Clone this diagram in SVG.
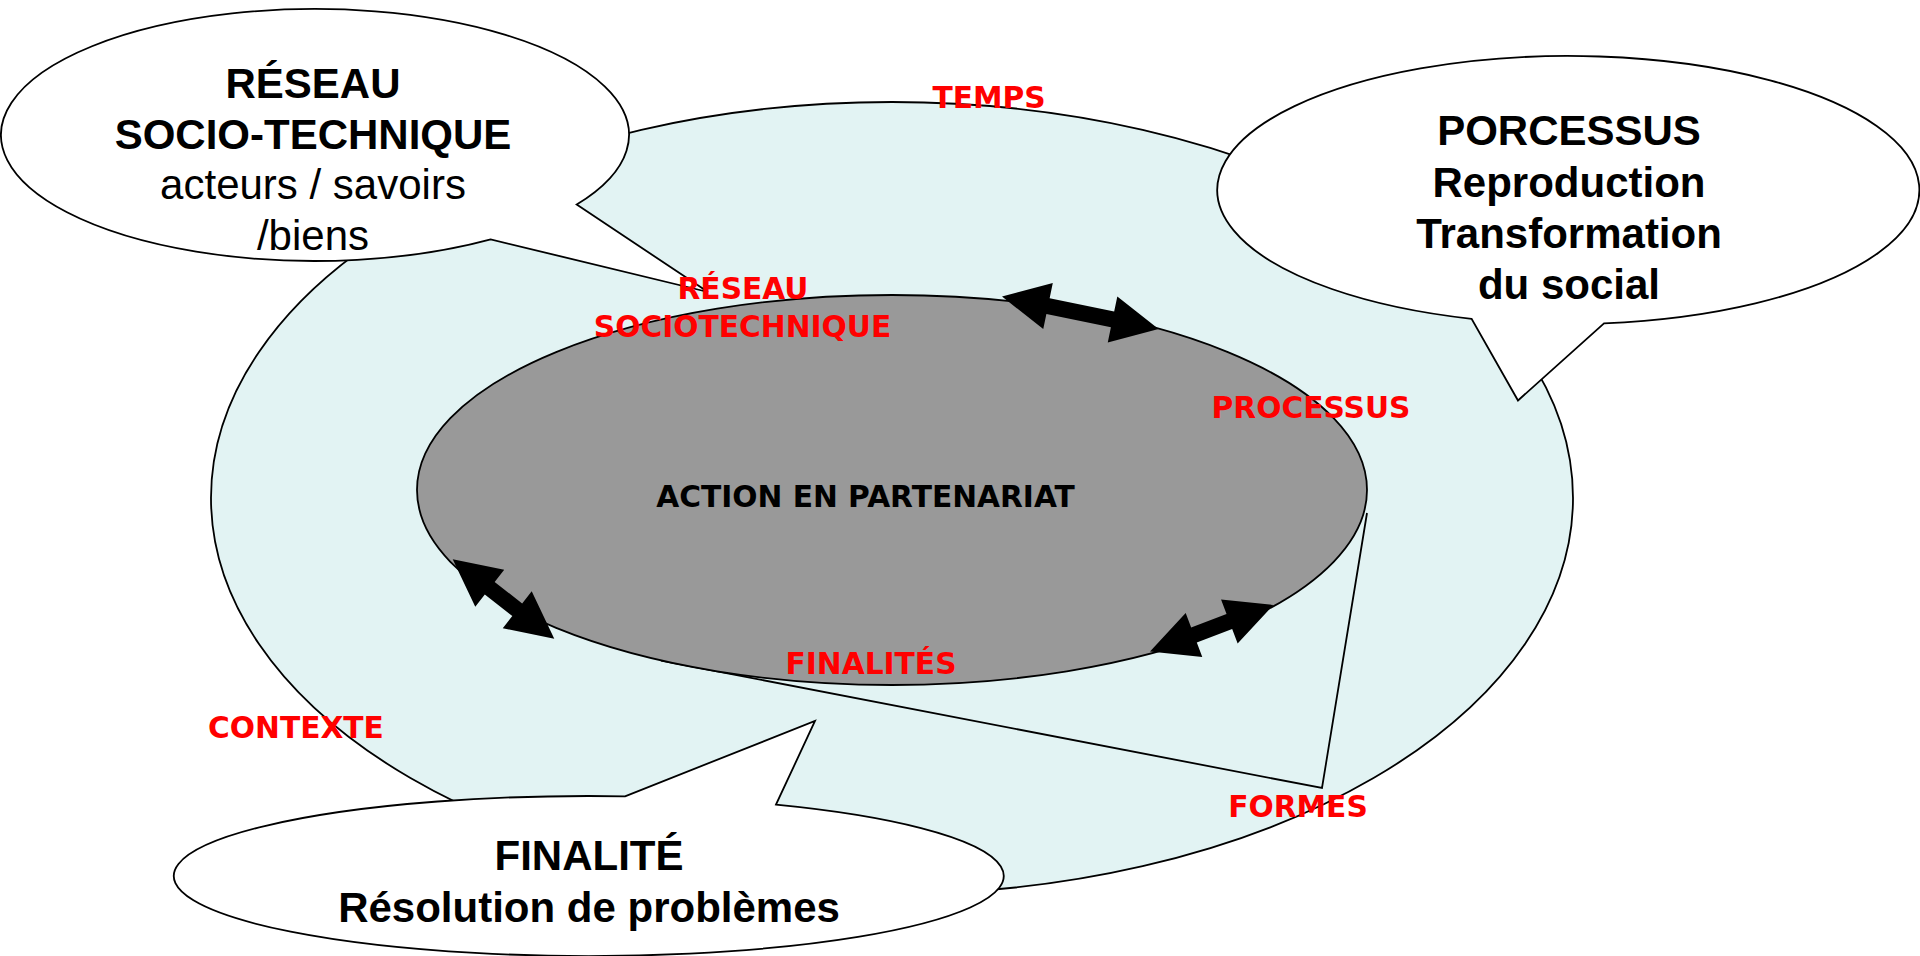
<svg xmlns="http://www.w3.org/2000/svg" width="1920" height="956" viewBox="0 0 1920 956">
<style>
.ln{stroke:#000;stroke-width:1.8;stroke-linejoin:miter}
.ctx{fill:#E2F3F3}
.act{fill:#999999}
.bub{fill:#FFFFFF}
.red{font-family:"DejaVu Sans",Verdana,sans-serif;font-weight:bold;font-size:29.7px;fill:#FF0000;text-anchor:middle}
.mid{font-family:"DejaVu Sans",Verdana,sans-serif;font-weight:bold;font-size:29.7px;fill:#000;text-anchor:middle}
.bt{font-family:"Liberation Sans",Arial,sans-serif;font-size:42px;fill:#000;text-anchor:middle}
.b{font-weight:bold}
.arr{fill:#000}
</style>
<defs>
<polygon id="dbl" points="0,0 47,-23.5 47,-8 0,-8 0,8 47,8 47,23.5"/>
</defs>
<rect width="1920" height="956" fill="#FFFFFF"/>
<g id="contexte">
<ellipse class="ctx ln" cx="892" cy="498" rx="681" ry="396"/>
</g>
<g id="action">
<polyline class="ln" fill="none" points="1367,513 1322,788 661,660.5"/>
<ellipse class="act ln" cx="892" cy="490" rx="475" ry="195"/>
<text class="mid" x="865.5" y="507.3">ACTION EN PARTENARIAT</text>
</g>
<g id="bulle-reseau">
<path class="bub ln" d="M576.7,204.6 L708,292 L490.7,239.4 A314 126 0 1 1 576.7,204.6 Z"/>
<text class="bt b" x="313" y="98.3">RÉSEAU</text>
<text class="bt b" x="313" y="149">SOCIO-TECHNIQUE</text>
<text class="bt" x="313" y="199.3">acteurs / savoirs</text>
<text class="bt" x="313" y="250">/biens</text>
</g>
<g id="bulle-processus">
<path class="bub ln" d="M1604,323.3 L1518,400.5 L1471.6,318.8 A351 134 0 1 1 1604,323.3 Z"/>
<text class="bt b" x="1569" y="145">PORCESSUS</text>
<text class="bt b" x="1569" y="196.7">Reproduction</text>
<text class="bt b" x="1569" y="247.7">Transformation</text>
<text class="bt b" x="1569" y="299">du social</text>
</g>
<g id="bulle-finalite">
<path class="bub ln" d="M625,796.3 L815,721 L776,804.6 A415 80 0 1 1 625,796.3 Z"/>
<text class="bt b" x="589" y="870">FINALITÉ</text>
<text class="bt b" x="589" y="921.7">Résolution de problèmes</text>
</g>
<g id="connecteurs">
<g transform="translate(1002,296.5) rotate(11.72)">
<polygon class="arr" points="0,0 47,-23.5 47,-8 112.9,-8 112.9,-23.5 159.9,0 112.9,23.5 112.9,8 47,8 47,23.5"/>
</g>
<g transform="translate(452.7,559.3) rotate(38)">
<polygon class="arr" points="0,0 47,-23.5 47,-8 81.9,-8 81.9,-23.5 128.9,0 81.9,23.5 81.9,8 47,8 47,23.5"/>
</g>
<g transform="translate(1150,651.5) rotate(-20.66)">
<polygon class="arr" points="0,0 47,-23.5 47,-8 84.8,-8 84.8,-23.5 131.8,0 84.8,23.5 84.8,8 47,8 47,23.5"/>
</g>
</g>
<g id="etiquettes">
<text class="red" x="989" y="108.3">TEMPS</text>
<text class="red" x="743" y="299">RÉSEAU</text>
<text class="red" x="742.5" y="336.7">SOCIOTECHNIQUE</text>
<text class="red" x="1311" y="418.3">PROCESSUS</text>
<text class="red" x="871" y="674.3">FINALITÉS</text>
<text class="red" x="296" y="738.3">CONTEXTE</text>
<text class="red" x="1298" y="817.3">FORMES</text>
</g>
</svg>
